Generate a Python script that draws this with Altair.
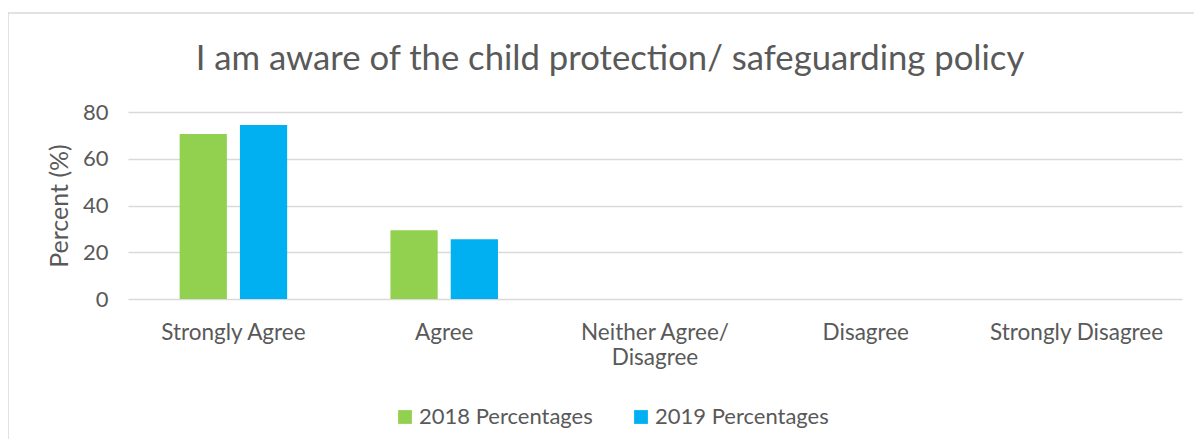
import altair as alt
import pandas as pd

categories = ["Strongly Agree", "Agree", "Neither Agree/ Disagree", "Disagree", "Strongly Disagree"]
series = ["2018 Percentages", "2019 Percentages"]
values_2018 = [70.6, 29.4, 0, 0, 0]
values_2019 = [74.4, 25.6, 0, 0, 0]
colors = ["#92D050", "#00B0F0"]

rows = []
for c, v in zip(categories, values_2018):
    rows.append({"category": c, "series": series[0], "value": v})
for c, v in zip(categories, values_2019):
    rows.append({"category": c, "series": series[1], "value": v})
df = pd.DataFrame(rows)

FONT = "Lato"
TXT = "#595959"

bars = alt.Chart(df).mark_bar().encode(
    x=alt.X("category:N", sort=categories,
            scale=alt.Scale(paddingInner=0.49, paddingOuter=0.245),
            axis=alt.Axis(title=None, labelAngle=0, domain=False, ticks=False,
                          labelPadding=22, labelFontSize=22.5, labelColor=TXT,
                          labelFont=FONT, labelLineHeight=25, labelLimit=300,
                          labelExpr="datum.value == 'Neither Agree/ Disagree' ? ['Neither Agree/', 'Disagree'] : datum.label")),
    xOffset=alt.XOffset("series:N", sort=series,
                        scale=alt.Scale(paddingInner=0.2167, paddingOuter=0)),
    y=alt.Y("value:Q", scale=alt.Scale(domain=[0, 80]),
            axis=alt.Axis(title="Percent (%)", values=[0, 20, 40, 60, 80],
                          domain=False, ticks=False, labelPadding=20,
                          labelFontSize=22, labelColor=TXT, labelFont=FONT,
                          titleFontSize=25, titleColor=TXT, titleFont=FONT,
                          titleFontWeight="normal", titlePadding=10,
                          gridColor="#D9D9D9", gridWidth=1.3)),
    color=alt.Color("series:N", sort=series,
                    scale=alt.Scale(domain=series, range=colors),
                    legend=alt.Legend(title=None, orient="none", direction="horizontal",
                                      legendX=266, legendY=294, symbolType="square",
                                      symbolSize=190, symbolStrokeWidth=0,
                                      labelFontSize=22, labelColor=TXT, labelFont=FONT,
                                      labelLimit=400, columnPadding=37, labelOffset=3)),
)

frame = alt.Chart(pd.DataFrame({"k": [0]})).mark_rect(
    fill=None, stroke="#D9D9D9", strokeWidth=1.5
).encode(
    x=alt.value(-120), x2=alt.value(1300), y=alt.value(-99), y2=alt.value(500)
)

chart = alt.layer(frame, bars).properties(
    width=1054, height=187,
    background="white",
    title=alt.TitleParams("I am aware of the child protection/ safeguarding policy",
                          fontSize=34.7, font=FONT, color=TXT, fontWeight="normal",
                          anchor="middle", dx=-45, offset=0, baseline="alphabetic", dy=92),
    autosize=alt.AutoSizeParams(type="none"),
    padding={"left": 120, "top": 104, "right": 12, "bottom": 140},
).configure_view(strokeWidth=0, stroke="transparent")

chart.save("out.html", embed_options={"renderer": "svg", "actions": False})
